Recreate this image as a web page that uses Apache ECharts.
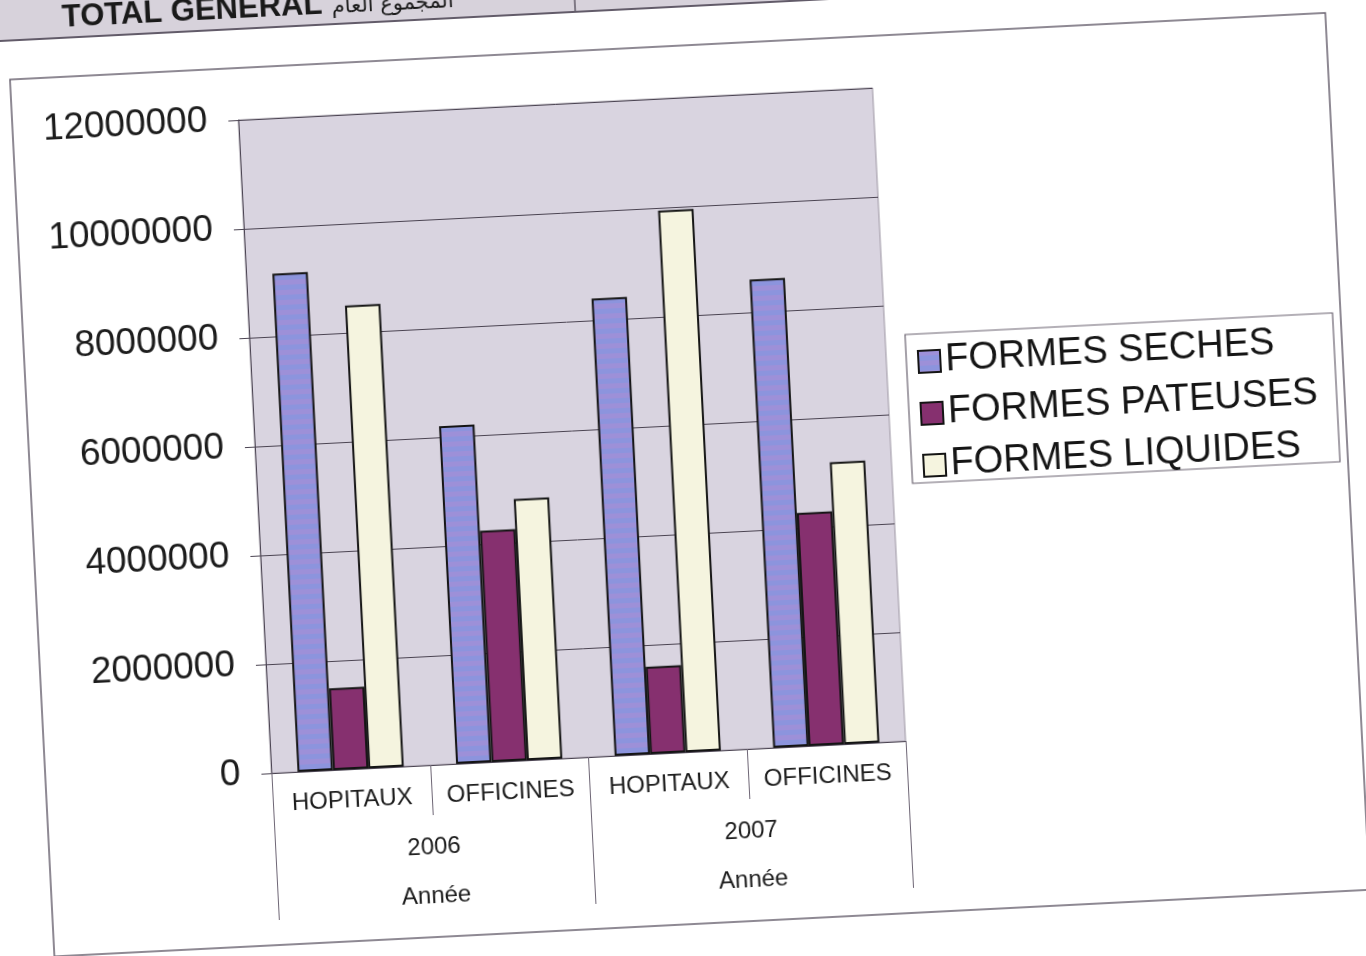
<!DOCTYPE html>
<html>
<head>
<meta charset="utf-8">
<script src="https://cdn.jsdelivr.net/npm/echarts@6/dist/echarts.min.js"></script>
<style>
  html, body { margin: 0; padding: 0; background: #fff; overflow: hidden; width: 1366px; height: 956px; }
  /* the scan is tilted a little, so the whole chart is turned with it */
  #chart { position: absolute; left: -100px; top: -100px; width: 1566px; height: 1156px; transform: rotate(-2.9deg); }
</style>
</head>
<body>
<div id="chart"></div>
<script>
const categories = ['HOPITAUX', 'OFFICINES', 'HOPITAUX', 'OFFICINES']
const years = ['2006', '2007']
const seriesNames = ['FORMES SECHES', 'FORMES PATEUSES', 'FORMES LIQUIDES']
const seches = [9150000, 6200000, 8400000, 8600000]
const pateuses = [1500000, 4250000, 1600000, 4280000]
const liquides = [8500000, 4800000, 9950000, 5180000]
const yMin = 0
const yMax = 12000000
const yStep = 2000000

// horizontal stripes of the "seches" bars
function stripes() {
  const c = document.createElement('canvas')
  c.width = 8
  c.height = 10
  const ctx = c.getContext('2d')
  ctx.fillStyle = '#9d90d8'
  ctx.fillRect(0, 0, 8, 5)
  ctx.fillStyle = '#8c94dd'
  ctx.fillRect(0, 5, 8, 5)
  return c
}

const font = 'Liberation Sans, Arial, sans-serif'
const chart = echarts.init(document.getElementById('chart'))

chart.setOption({
  animation: false,
  backgroundColor: 'transparent',
  grid: {
    left: 357,
    top: 198,
    width: 635,
    height: 654,
    show: true,
    backgroundColor: '#d9d4e0',
    borderColor: '#9c96a3',
    borderWidth: 1
  },
  legend: {
    orient: 'vertical',
    left: 1023,
    top: 455,
    padding: 0,
    itemWidth: 22,
    itemHeight: 22,
    itemGap: 14,
    itemTextGap: 9,
    icon: 'rect',
    textStyle: { fontFamily: font, fontSize: 38, color: '#151515', lineHeight: 38 },
    data: seriesNames
  },
  xAxis: [
    {
      type: 'category',
      data: categories,
      axisLine: { show: true, lineStyle: { color: '#4b4452', width: 1 } },
      axisTick: { show: true, interval: 0, length: 50, lineStyle: { color: '#6e6675' } },
      axisLabel: { interval: 0, margin: 19, fontFamily: font, fontSize: 24, color: '#1c1c1c', lineHeight: 24 }
    },
    {
      type: 'category',
      data: years,
      position: 'bottom',
      axisLine: { show: false },
      axisTick: { show: true, interval: 0, length: 147, lineStyle: { color: '#6e6675' } },
      axisLabel: {
        interval: 0,
        margin: 58,
        fontFamily: font,
        fontSize: 24,
        color: '#1c1c1c',
        lineHeight: 49,
        formatter: v => v + '\nAnnée'
      }
    }
  ],
  yAxis: {
    type: 'value',
    min: yMin,
    max: yMax,
    interval: yStep,
    axisLine: { show: true, lineStyle: { color: '#4b4452' } },
    axisTick: { show: true, length: 10, lineStyle: { color: '#4b4452' } },
    axisLabel: { margin: 31, fontFamily: font, fontSize: 37, color: '#1c1c1c', formatter: v => String(v) },
    splitLine: { show: true, lineStyle: { color: '#4b4452', width: 1 } }
  },
  series: [
    {
      name: seriesNames[0],
      type: 'bar',
      data: seches,
      barGap: 0,
      barCategoryGap: '33%',
      itemStyle: { color: { image: stripes(), repeat: 'repeat' }, borderColor: '#141414', borderWidth: 2 }
    },
    {
      name: seriesNames[1],
      type: 'bar',
      data: pateuses,
      itemStyle: { color: '#86306f', borderColor: '#141414', borderWidth: 2 }
    },
    {
      name: seriesNames[2],
      type: 'bar',
      data: liquides,
      itemStyle: { color: '#f5f4df', borderColor: '#141414', borderWidth: 2 }
    }
  ],
  graphic: [
    // table row cut off at the top of the page
    {
      type: 'rect',
      shape: { x: 0, y: 0, width: 1566, height: 107 },
      style: { fill: '#d7d2db', stroke: '#625b69', lineWidth: 2 },
      z: -10
    },
    {
      type: 'line',
      shape: { x1: 699, y1: 0, x2: 699, y2: 107 },
      style: { stroke: '#625b69', lineWidth: 1.5 }
    },
    {
      type: 'text',
      x: 186,
      y: 103,
      style: { text: 'TOTAL GENERAL', fontFamily: font, fontSize: 31, fontWeight: 'bold', fill: '#1a1a1a', textVerticalAlign: 'bottom' }
    },
    {
      type: 'text',
      x: 578,
      y: 101,
      style: { text: 'المجموع العام', fontFamily: 'DejaVu Sans', fontSize: 21, fill: '#1a1a1a', align: 'right', textVerticalAlign: 'bottom' }
    },
    // chart area frame
    {
      type: 'rect',
      shape: { x: 131, y: 146, width: 1317, height: 878 },
      style: { fill: 'none', stroke: '#6a6370', lineWidth: 1.5 },
      z: -5
    },
    // legend frame
    {
      type: 'rect',
      shape: { x: 1012, y: 446, width: 428, height: 149 },
      style: { fill: 'none', stroke: '#6a6370', lineWidth: 1.2 }
    }
  ]
})
</script>
</body>
</html>
